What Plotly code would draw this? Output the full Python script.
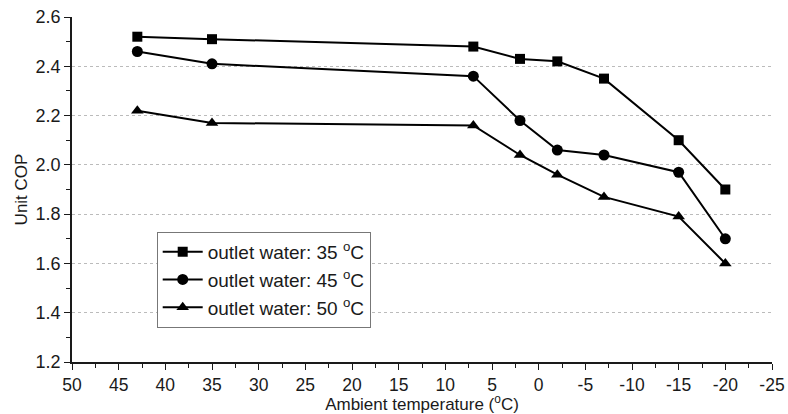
import plotly.graph_objects as go

temps = [43, 35, 7, 2, -2, -7, -15, -20]
cop_35 = [2.52, 2.51, 2.48, 2.43, 2.42, 2.35, 2.10, 1.90]
cop_45 = [2.46, 2.41, 2.36, 2.18, 2.06, 2.04, 1.97, 1.70]
cop_50 = [2.22, 2.17, 2.16, 2.04, 1.96, 1.87, 1.79, 1.60]
x_ticks = [50, 45, 40, 35, 30, 25, 20, 15, 10, 5, 0, -5, -10, -15, -20, -25]
x_ticktext = ["50", "45", "40", "35", "30", "25", "20", "15", "10", "5", "0", "-5", "-10", "-15", "-20", "-25"]
names = ["outlet water: 35 <sup>o</sup>C", "outlet water: 45 <sup>o</sup>C", "outlet water: 50 <sup>o</sup>C"]
symbols = ["square", "circle", "triangle-up"]
sizes = [10, 11, 11]

fig = go.Figure()
for i, (ys, nm, sym, sz) in enumerate(zip([cop_35, cop_45, cop_50], names, symbols, sizes)):
    fig.add_trace(go.Scatter(x=temps, y=ys, name=nm, mode="lines+markers", legendgroup=f"g{i}",
                             line=dict(color="black", width=2),
                             marker=dict(symbol=sym, size=sz, color="black")))

font = "Liberation Sans, Arial, sans-serif"
fig.update_layout(
    width=788, height=414,
    margin=dict(l=72, r=16, t=17, b=52),
    plot_bgcolor="white", paper_bgcolor="white",
    font=dict(family=font, size=17, color="#1a1a1a"),
    showlegend=True,
    legend=dict(x=0.121, y=0.377, xanchor="left", yanchor="top",
                bordercolor="#777", borderwidth=1, bgcolor="white",
                font=dict(size=19, color="#1a1a1a"), tracegroupgap=0,
                itemwidth=40),
)
fig.update_xaxes(range=[50, -25], tickvals=x_ticks, ticktext=x_ticktext, automargin=False,
                 showline=True, linecolor="#1a1a1a", linewidth=1.5,
                 ticks="outside", ticklen=6, tickcolor="#1a1a1a", showgrid=False, zeroline=False,
                 minor=dict(ticks="outside", ticklen=4, dtick=2.5, tickcolor="#1a1a1a"),
                 title=dict(text="Ambient temperature (<sup>o</sup>C)", standoff=0, font=dict(size=17)),
                 tickfont=dict(size=17.5))
fig.update_yaxes(range=[1.2, 2.6], dtick=0.2, tick0=1.2, tickformat=".1f", automargin=False,
                 showline=True, linecolor="#1a1a1a", linewidth=1.5,
                 ticks="outside", ticklen=6, tickcolor="#1a1a1a", showgrid=True, gridcolor="#bbb", griddash="dot",
                 gridwidth=1, zeroline=False,
                 minor=dict(ticks="outside", ticklen=4, dtick=0.1, tickcolor="#1a1a1a"),
                 title=dict(text="Unit COP", standoff=4, font=dict(size=17)),
                 tickfont=dict(size=18))
fig.write_html("out.html")
